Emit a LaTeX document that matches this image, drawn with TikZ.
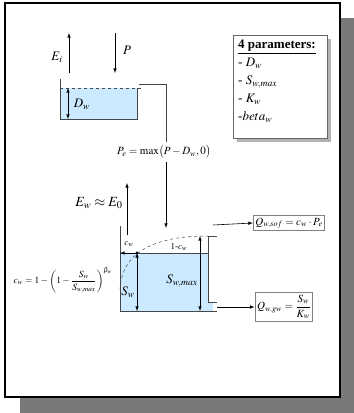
\documentclass[tikz,border=0pt]{standalone}
\usepackage{mathptmx}
\usepackage{fontspec}
\setmainfont{Liberation Serif}
\usepackage{amsmath}
\usetikzlibrary{positioning}

\definecolor{waterblue}{RGB}{204,234,255}
\definecolor{wallgray}{RGB}{70,70,70}
\tikzset{
  wall/.style={draw=wallgray, line width=0.7pt},
  flow/.style={-latex, line width=0.6pt},
  twoway/.style={latex-latex, line width=0.6pt},
  qbox/.style={draw=gray, line width=0.9pt, fill=white, inner sep=2pt},
  big/.style={font=\fontsize{13}{15}\selectfont},
  mid/.style={font=\fontsize{11}{13}\selectfont}
}

\begin{document}
\begin{tikzpicture}[x=1pt, y=-1pt]
  \useasboundingbox (0,0) rectangle (354,413);
  % Frame with shadow
  \fill[gray!95!black] (20,18) rectangle (354,413);
  \draw[fill=white, line width=1.4pt] (5,3) rectangle (340,397);

  % Upper store
  \node[big] (Ei) at (57,57) {$E_i$};
  \node[big] (P) at (127,50) {$P$};
  \coordinate (eibot) at (69,73);
  \coordinate (eitop) at (69,33);
  \coordinate (ptop) at (115,33);
  \coordinate (pbot) at (115,73);
  \draw[flow] (eibot) -- (eitop);
  \draw[flow] (ptop) -- (pbot);
  \fill[waterblue] (60,88) rectangle (137,119);
  \draw[wall] (60,79) -- (60,119) -- (137,119) -- (137,88);
  \draw[wall, dashed, line width=0.5pt] (60,88) -- (141,88);
  \coordinate (dtop) at (68,88);
  \coordinate (dbot) at (68,119);
  \draw[twoway] (dtop) -- (dbot);
  \node[big] (Dw) at (82,104) {$D_w$};

  % Effective rainfall
  \node[mid] (Pe) at (164,152) {$P_e=\max\bigl(P-D_w,0\bigr)$};
  \coordinate (spill) at (139,84);
  \coordinate (inflow) at (166,228);
  \draw[wall, line width=0.5pt] (spill) -| (Pe.north -| inflow);
  \draw[flow] (Pe.south -| inflow) -- (inflow);

  % Lower store
  \node[font=\fontsize{14}{16}\selectfont] (Ew) at (99,203) {$E_w\approx E_0$};
  \coordinate (ewbot) at (127,235);
  \coordinate (ewtop) at (127,183);
  \draw[flow] (ewbot) -- (ewtop);
  \fill[waterblue] (120,253) rectangle (208,311);
  \fill[waterblue] (208,302) rectangle (213,311);
  \draw[wall] (120,226) -- (120,311) -- (217,311);
  \draw[wall] (217,236) -- (208,236) -- (208,302) -- (217,302);
  \draw[wall, line width=0.5pt] (120,253) -- (208,253);
  \draw[wallgray, dashed, line width=0.5pt] (120,290) .. controls (121,255) and (150,237) .. (203,236) -- (208,236);

  \coordinate (level) at (137,253);
  \coordinate (leftwall) at (120,253);
  \coordinate (swbot) at (137,311);
  \coordinate (maxtop) at (200,236);
  \coordinate (maxbot) at (200,311);
  \draw[flow] (level) -- (leftwall);
  \draw[twoway] (level) -- (swbot);
  \draw[twoway] (maxtop) -- (maxbot);
  \fill (level) circle (1.6);
  \node[font=\fontsize{9}{11}\selectfont] (cw) at (129,244) {$c_w$};
  \node[font=\fontsize{9}{11}\selectfont] (onecw) at (179,247) {$1\text{-}c_w$};
  \node[big] (Sw) at (128,292) {$S_w$};
  \node[big] (Swmax) at (182,281) {$S_{w,max}$};

  % Saturated fraction
  \node[font=\fontsize{9.5}{11}\selectfont] (cwform) at (63,280) {$c_w=1-\left(1-\dfrac{S_w}{S_{w,max}}\right)^{\beta_w}$};

  % Outflows
  \node[qbox, mid] (Qsof) at (289,223) {$Q_{w,sof}=c_w\cdot P_e$};
  \node[qbox, mid] (Qgw) at (284,307) {$Q_{w,gw}=\dfrac{S_w}{K_w}$};
  \coordinate (sofout) at (213,225);
  \coordinate (gwout) at (217,307);
  \draw[flow] (sofout) -- (Qsof.west);
  \draw[flow] (gwout) -- (Qgw.west);

  % Parameters
  \fill[gray!60] (237,39) rectangle (331,142);
  \draw[fill=white, draw=gray!80!black, line width=0.7pt] (233,35) rectangle (327,138);
  \node[anchor=north west, align=left, inner sep=0pt, font=\fontsize{13}{18}\selectfont] (pars) at (238,40)
    {\textbf{\underline{4 parameters:}}\\
     - $D_w$\\
     - $S_{w,max}$\\
     - $K_w$\\
     -$beta_w$};
\end{tikzpicture}
\end{document}
